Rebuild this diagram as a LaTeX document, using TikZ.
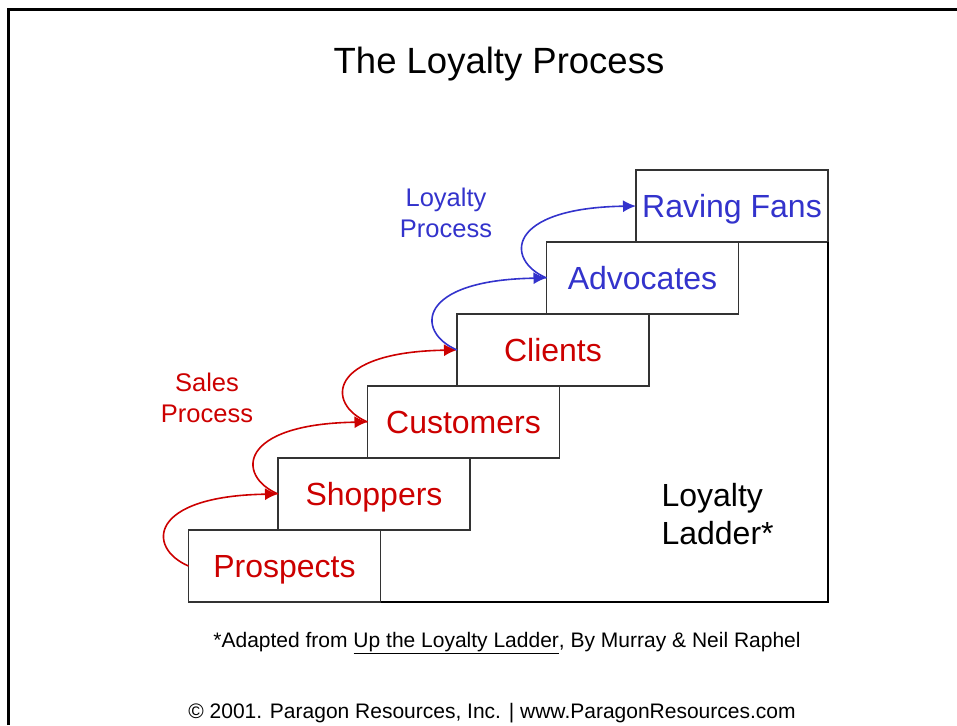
\documentclass[tikz,border=0pt]{standalone}
\usepackage{fontspec}
\setmainfont{Liberation Sans}
\usepackage{tikz}
\usetikzlibrary{positioning}
\usetikzlibrary{arrows.meta}
\definecolor{salesred}{RGB}{204,0,0}
\definecolor{loyalblue}{RGB}{51,51,204}

\begin{document}
\begin{tikzpicture}[x=1pt,y=-1pt,
  rung/.style={draw=black!80,line width=1.2pt,fill=white,minimum width=192pt,
    minimum height=72pt,inner sep=0pt,outer sep=0pt,text height=23pt,text depth=0pt,
    font=\fontsize{32}{38}\selectfont},
  salesrung/.style={rung,text=salesred},
  loyalrung/.style={rung,text=loyalblue},
  salesline/.style={salesred,line width=1.6pt,-{Latex[length=13pt,width=12pt]}},
  loyalline/.style={loyalblue,line width=1.6pt,-{Latex[length=13pt,width=12pt]}},
  tag/.style={align=center,anchor=base,font=\fontsize{25.5}{31}\selectfont}]
 \useasboundingbox (0,0) rectangle (957,725);
 % slide frame
 \draw[line width=3pt] (8,725) -- (8,10) -- (957,10);
 \node[anchor=base,font=\fontsize{36.5}{44}\selectfont] (title) at (499,74) {The Loyalty Process};
 % the ladder
 \node[salesrung] (prospects) at (284.5,566) {Prospects};
 \node[salesrung,anchor=south west] (shoppers) at ([xshift=89.5pt]prospects.north west) {Shoppers};
 \node[salesrung,anchor=south west] (customers) at ([xshift=89.5pt]shoppers.north west) {Customers};
 \node[salesrung,anchor=south west] (clients) at ([xshift=89.5pt]customers.north west) {Clients};
 \node[loyalrung,anchor=south west] (advocates) at ([xshift=89.5pt]clients.north west) {Advocates};
 \node[loyalrung,anchor=south west] (fans) at ([xshift=89.5pt]advocates.north west) {Raving Fans};
 \draw[line width=1.2pt] (prospects.south east) -| (fans.south east);
 \node[anchor=base west,align=left,font=\fontsize{32}{38}\selectfont] (ladder) at (658,544) {Loyalty\\Ladder*};
 % steps up
 \draw[salesline] (prospects.west) .. controls +(-42,-18) and +(-130,2) .. (shoppers.west);
 \draw[salesline] (shoppers.west) .. controls +(-42,-18) and +(-130,2) .. (customers.west);
 \draw[salesline] (customers.west) .. controls +(-42,-18) and +(-130,2) .. (clients.west);
 \draw[loyalline] (clients.west) .. controls +(-42,-18) and +(-130,2) .. (advocates.west);
 \draw[loyalline] (advocates.west) .. controls +(-42,-18) and +(-130,2) .. (fans.west);
 \node[tag,text=salesred] (salestag) at (207,422) {Sales\\Process};
 \node[tag,text=loyalblue] (loyaltag) at (446,237) {Loyalty\\Process};
 % credits
 \node[anchor=base,font=\fontsize{21}{25}\selectfont] (source) at (507,647)
  {*Adapted from \underline{Up the Loyalty Ladder}, By Murray \& Neil Raphel};
 \node[anchor=base,font=\fontsize{21}{25}\selectfont] (credit) at (492,718)
  {\textcopyright{} 2001. Paragon Resources, Inc. | www.ParagonResources.com};
\end{tikzpicture}
\end{document}
